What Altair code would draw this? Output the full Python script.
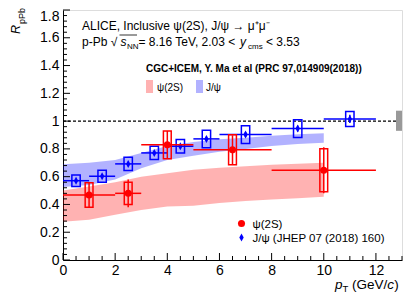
import altair as alt
import pandas as pd

FONT = "Liberation Sans"
RED = "#ff0000"
BLUE = "#0000ff"

# ---------------- data ----------------
# J/psi (JHEP 07 (2018) 160)
jpsi_pt = [0.5, 1.5, 2.5, 3.5, 4.5, 5.5, 7.0, 9.0, 11.0]
jpsi_lo = [0, 1, 2, 3, 4, 5, 6, 8, 10]
jpsi_hi = [1, 2, 3, 4, 5, 6, 8, 10, 12]
jpsi_r = [0.571, 0.603, 0.692, 0.771, 0.819, 0.872, 0.903, 0.946, 1.016]
jpsi_stat = [0.012, 0.012, 0.013, 0.014, 0.015, 0.016, 0.018, 0.022, 0.03]
jpsi_syst = [0.041, 0.044, 0.048, 0.048, 0.048, 0.063, 0.064, 0.064, 0.054]

# psi(2S)
psi_pt = [1.0, 2.5, 4.0, 6.5, 10.0]
psi_lo = [0, 2, 3, 5, 8]
psi_hi = [2, 3, 5, 8, 12]
psi_r = [0.468, 0.48, 0.829, 0.793, 0.646]
psi_stat = [0.088, 0.1, 0.1, 0.105, 0.165]
psi_syst = [0.088, 0.08, 0.1, 0.108, 0.155]

# CGC+ICEM model bands
band_pt = [0, 1, 2, 3, 4, 5, 6, 7, 8, 9, 10]
jpsi_band_hi = [0.69, 0.70, 0.72, 0.77, 0.82, 0.85, 0.87, 0.88, 0.895, 0.905, 0.913]
jpsi_band_lo = [0.525, 0.54, 0.58, 0.66, 0.72, 0.75, 0.78, 0.80, 0.82, 0.835, 0.845]
psi_band_hi = [0.50, 0.53, 0.56, 0.60, 0.625, 0.65, 0.665, 0.675, 0.685, 0.693, 0.70]
psi_band_lo = [0.276, 0.29, 0.325, 0.36, 0.385, 0.39, 0.41, 0.425, 0.435, 0.445, 0.456]

# global uncertainty box and reference line
global_x = [12.77, 13.0]
global_y = [0.93, 1.075]
ref_line = 1.0

x_ticks = [0, 2, 4, 6, 8, 10, 12]
y_ticks = [0, 0.2, 0.4, 0.6, 0.8, 1.0, 1.2, 1.4, 1.6, 1.8]
X_MAX = 13
Y_MAX = 1.8

# ---------------- layout ----------------
PAD_L, PAD_T, PAD_R, PAD_B = 55, 2, 5, 32
W, H = 339, 250
OX, OY = 8 + PAD_L, 8 + PAD_T  # plot origin on page

xs = alt.Scale(domain=[0, X_MAX], nice=False, zero=False)
ys = alt.Scale(domain=[0, Y_MAX], nice=False, zero=False)

AX_X = alt.Axis(values=x_ticks, format="~g", ticks=False, grid=False, title=None,
                labelFontSize=14, labelPadding=3, labelFlush=False, labelOverlap=False,
                labelFont=FONT, labelColor="black", domainColor="black", domainWidth=1)
AX_Y = alt.Axis(values=y_ticks, format="~g", ticks=False, grid=False, title=None,
                labelFontSize=14, labelPadding=4, labelFlush=False, labelOverlap=False,
                labelOffset={"condition": {"test": "datum.value > 1.79", "value": 6}, "value": 0},
                labelFont=FONT, labelColor="black", domainColor="black", domainWidth=1)


def X(f):
    return alt.X(f, type="quantitative", scale=xs, axis=AX_X)


def Y(f):
    return alt.Y(f, type="quantitative", scale=ys, axis=AX_Y)


jpsi = pd.DataFrame(dict(pt=jpsi_pt, lo=jpsi_lo, hi=jpsi_hi, r=jpsi_r))
jpsi["s_lo"] = [r - e for r, e in zip(jpsi_r, jpsi_stat)]
jpsi["s_hi"] = [r + e for r, e in zip(jpsi_r, jpsi_stat)]
jpsi["y_lo"] = [r - e for r, e in zip(jpsi_r, jpsi_syst)]
jpsi["y_hi"] = [r + e for r, e in zip(jpsi_r, jpsi_syst)]
jpsi["b_lo"] = [p - 0.16 for p in jpsi_pt]
jpsi["b_hi"] = [p + 0.16 for p in jpsi_pt]

psi = pd.DataFrame(dict(pt=psi_pt, lo=psi_lo, hi=psi_hi, r=psi_r))
psi["s_lo"] = [r - e for r, e in zip(psi_r, psi_stat)]
psi["s_hi"] = [r + e for r, e in zip(psi_r, psi_stat)]
psi["y_lo"] = [r - e for r, e in zip(psi_r, psi_syst)]
psi["y_hi"] = [r + e for r, e in zip(psi_r, psi_syst)]
psi["b_lo"] = [p - 0.15 for p in psi_pt]
psi["b_hi"] = [p + 0.15 for p in psi_pt]

band = pd.DataFrame(dict(pt=band_pt, jh=jpsi_band_hi, jl=jpsi_band_lo,
                         ph=psi_band_hi, pl=psi_band_lo))

layers = []

# model bands
layers.append(alt.Chart(band).mark_area(color=RED, opacity=0.3).encode(
    x=X("pt"), y=Y("pl"), y2="ph"))
layers.append(alt.Chart(band).mark_area(color=BLUE, opacity=0.3).encode(
    x=X("pt"), y=Y("jl"), y2="jh"))

# reference line at 1
ref_df = pd.DataFrame(dict(x0=[0], x1=[X_MAX], y=[ref_line]))
layers.append(alt.Chart(ref_df).mark_rule(color="black", strokeDash=[3, 2], strokeWidth=1.2).encode(
    x=X("x0"), x2="x1", y=Y("y")))

# global uncertainty box
g_df = pd.DataFrame(dict(x0=[global_x[0]], x1=[global_x[1]], y0=[global_y[0]], y1=[global_y[1]]))
layers.append(alt.Chart(g_df).mark_rect(color="#999999").encode(
    x=X("x0"), x2="x1", y=Y("y0"), y2="y1"))


def series(df, color, shape, size):
    out = []
    out.append(alt.Chart(df).mark_rule(color=color, strokeWidth=1.5).encode(
        x=X("lo"), x2="hi", y=Y("r")))
    out.append(alt.Chart(df).mark_rule(color=color, strokeWidth=1.5).encode(
        x=X("pt"), y=Y("s_lo"), y2="s_hi"))
    out.append(alt.Chart(df).mark_rect(fillOpacity=0, stroke=color, strokeWidth=1.5).encode(
        x=X("b_lo"), x2="b_hi", y=Y("y_lo"), y2="y_hi"))
    out.append(alt.Chart(df).mark_point(filled=True, color=color, shape=shape, size=size, opacity=1).encode(
        x=X("pt"), y=Y("r")))
    return out


DIAMOND = "M0,-1L0.55,0L0,1L-0.55,0Z"
layers += series(jpsi, BLUE, DIAMOND, 64)
layers += series(psi, RED, "circle", 50)

# inward ticks
x_major = pd.DataFrame(dict(v=x_ticks))
x_minor = pd.DataFrame(dict(v=[i * 0.5 for i in range(0, 27) if (i * 0.5) % 2 != 0]))
y_major = pd.DataFrame(dict(v=y_ticks))
y_minor = pd.DataFrame(dict(v=[round(i * 0.04, 2) for i in range(0, 46) if i % 5 != 0]))
layers.append(alt.Chart(x_major).mark_rule(color="black").encode(
    x=X("v"), y=alt.value(H), y2=alt.value(H - 7)))
layers.append(alt.Chart(x_minor).mark_rule(color="black").encode(
    x=X("v"), y=alt.value(H), y2=alt.value(H - 4)))
layers.append(alt.Chart(y_major).mark_rule(color="black").encode(
    y=Y("v"), x=alt.value(0), x2=alt.value(7)))
layers.append(alt.Chart(y_minor).mark_rule(color="black").encode(
    y=Y("v"), x=alt.value(0), x2=alt.value(4)))


def label(txt, px, py, size=12, style="normal", weight="normal", angle=0, align="left", color="black"):
    kw = dict(text=txt, align=align, baseline="alphabetic", fontSize=size, fontStyle=style,
              fontWeight=weight, font=FONT, color=color)
    if angle:
        kw["angle"] = angle
    return alt.Chart(alt.Data(values=[{}])).mark_text(**kw).encode(
        x=alt.value(px - OX), y=alt.value(py - OY))


def box(px0, px1, py0, py1, color, opacity):
    return alt.Chart(alt.Data(values=[{}])).mark_rect(color=color, opacity=opacity).encode(
        x=alt.value(px0 - OX), x2=alt.value(px1 - OX), y=alt.value(py0 - OY), y2=alt.value(py1 - OY))


def mark_at(px, py, color, shape, size):
    return alt.Chart(alt.Data(values=[{}])).mark_point(filled=True, color=color, shape=shape, size=size, opacity=1).encode(
        x=alt.value(px - OX), y=alt.value(py - OY))


# header text
layers.append(label("ALICE, Inclusive ψ(2S), J/ψ → μ⁺μ⁻", 82, 30, 12))
layers.append(label("p-Pb √", 82, 46, 12))
layers.append(label("s", 120.5, 46, 12, style="italic"))
layers.append(label("NN", 127, 49, 8))
layers.append(alt.Chart(alt.Data(values=[{}])).mark_rule(color="black", strokeWidth=0.8).encode(
    x=alt.value(119.5 - OX), x2=alt.value(137 - OX), y=alt.value(35 - OY)))
layers.append(label("= 8.16 TeV, 2.03 <", 138.5, 46, 12))
layers.append(label("y", 240, 46, 12, style="italic"))
layers.append(label("cms", 248, 49, 8))
layers.append(label("< 3.53", 266, 46, 12))

# model legend
layers.append(label("CGC+ICEM, Y. Ma et al (PRC 97,014909(2018))", 146, 72, 10, weight="bold"))
layers.append(box(146, 153, 80, 93, RED, 0.3))
layers.append(label("ψ(2S)", 157, 91, 10))
layers.append(box(196, 203, 80, 93, BLUE, 0.3))
layers.append(label("J/ψ", 206, 91, 10))

# data legend
layers.append(mark_at(241.5, 223.5, RED, "circle", 50))
layers.append(label("ψ(2S)", 252.5, 227.5, 11.5))
layers.append(mark_at(241.5, 237.5, BLUE, DIAMOND, 64))
layers.append(label("J/ψ (JHEP 07 (2018) 160)", 252.5, 242, 11.5))

# axis titles
layers.append(label("p", 335, 289, 13.5, style="italic"))
layers.append(label("T", 342.5, 291.5, 9.5))
layers.append(label("(GeV/", 352, 289, 13.5))
layers.append(label("c", 387.3, 289, 13.5, style="italic"))
layers.append(label(")", 394.2, 289, 13.5))
layers.append(label("R", 19.8, 34, 12.5, style="italic", angle=270))
layers.append(label("pPb", 24.5, 24, 9, angle=270))

chart = alt.layer(*layers).properties(
    width=W, height=H,
    autosize=alt.AutoSizeParams(type="none"),
    padding={"left": PAD_L, "top": PAD_T, "right": PAD_R, "bottom": PAD_B},
).configure_view(stroke="#666666", strokeWidth=1).configure(background="white")

chart.save("out.html", embed_options={"renderer": "svg", "actions": False})
